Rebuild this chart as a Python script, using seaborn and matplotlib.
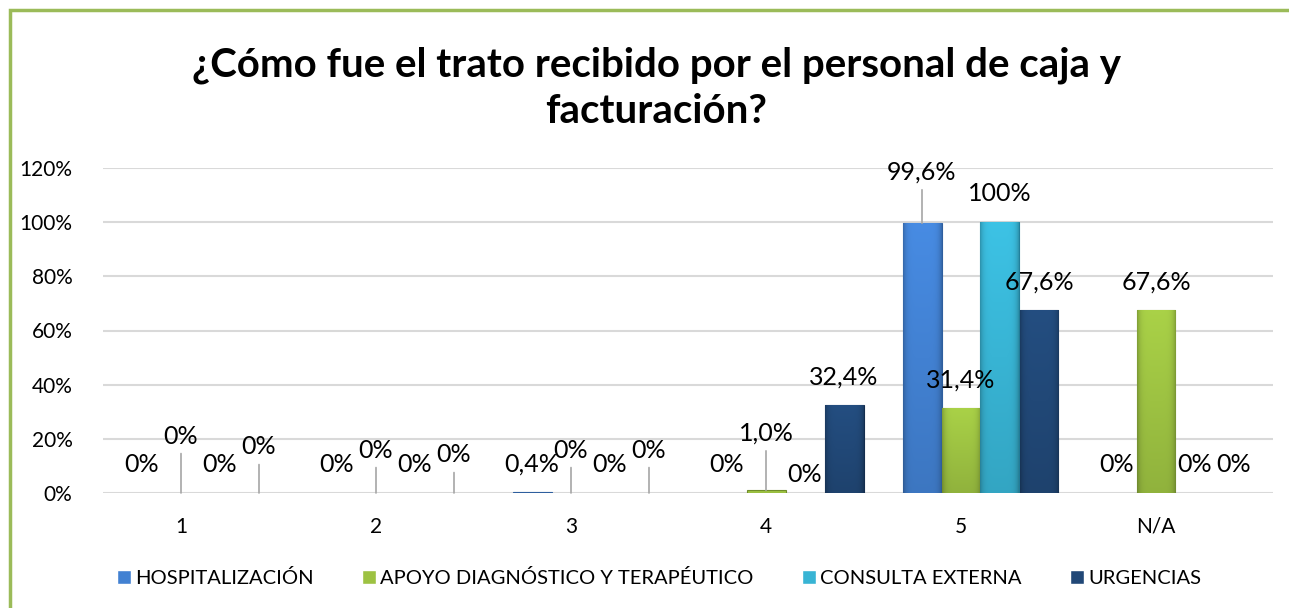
import matplotlib
matplotlib.use("Agg")
import matplotlib.pyplot as plt
import matplotlib.colors as mcolors
import seaborn as sns
import pandas as pd
import numpy as np
from matplotlib.patches import Rectangle

# ---- data ----
categories = ["1", "2", "3", "4", "5", "N/A"]
series = ["HOSPITALIZACIÓN", "APOYO DIAGNÓSTICO Y TERAPÉUTICO", "CONSULTA EXTERNA", "URGENCIAS"]
hospitalizacion = [0.0, 0.0, 0.4, 0.0, 99.6, 0.0]
apoyo = [0.0, 0.0, 0.0, 1.0, 31.4, 67.6]
consulta = [0.0, 0.0, 0.0, 0.0, 100.0, 0.0]
urgencias = [0.0, 0.0, 0.0, 32.4, 67.6, 0.0]
value_labels = [
    ["0%", "0%", "0,4%", "0%", "99,6%", "0%"],
    ["0%", "0%", "0%", "1,0%", "31,4%", "67,6%"],
    ["0%", "0%", "0%", "0%", "100%", "0%"],
    ["0%", "0%", "0%", "32,4%", "67,6%", "0%"],
]
title = "¿Cómo fue el trato recibido por el personal de caja y\nfacturación?"

# ---- styles (label placement, in pixels above bar top) ----
label_raise = [
    [28, 28, 28, 28, 51, 28],
    [57, 43, 43, 57, 28, 28],
    [28, 28, 28, 19, 29, 28],
    [46, 38, 43, 28, 28, 28],
]
colors = ["#4281D2", "#9DC242", "#38B4D4", "#214877"]
edges = ["#2E5E9E", "#6F8C2A", "#21809C", "#132D4E"]

df = pd.DataFrame({
    "cat": categories * 4,
    "serie": sum([[s] * len(categories) for s in series], []),
    "val": hospitalizacion + apoyo + consulta + urgencias,
})

sns.set_theme(style="white")
plt.rcParams["font.family"] = ["Lato", "DejaVu Sans"]
plt.rcParams["text.color"] = "black"
plt.rcParams["xtick.color"] = "black"
plt.rcParams["ytick.color"] = "black"

fig = plt.figure(figsize=(12.89, 6.08), dpi=100)
ax = fig.add_axes([103 / 1289, 1 - 493 / 608, 1170 / 1289, 325 / 608])

sns.barplot(data=df, x="cat", y="val", hue="serie", order=categories,
            hue_order=series, palette=colors, width=0.8, ax=ax,
            legend=True, errorbar=None, saturation=1)


def shade(base):
    rgb = np.array(mcolors.to_rgb(base))
    xs = np.linspace(-1, 1, 40)
    ys = np.linspace(0, 1, 60)[:, None]
    edge_dark = 1 - 0.22 * (np.abs(xs) ** 6)
    vert = 1.08 - 0.16 * ys
    fac = (edge_dark[None, :] * vert)[..., None]
    img = np.clip(rgb[None, None, :] * fac, 0, 1)
    return img


for ci, cont in enumerate(ax.containers):
    for bi, bar in enumerate(cont):
        bar.set_edgecolor(edges[ci])
        h = bar.get_height()
        bar.set_linewidth(0.8 if h > 0 else 0)
        x = bar.get_x() + bar.get_width() / 2
        if h > 2:
            im = ax.imshow(shade(colors[ci]), extent=(bar.get_x(), bar.get_x() + bar.get_width(), 0, h),
                           aspect="auto", origin="upper", zorder=bar.get_zorder() + 0.1,
                           interpolation="bilinear")
            im.set_clip_path(bar)
        r = label_raise[ci][bi]
        kw = dict(xy=(x, h), xytext=(0, r), textcoords="offset pixels",
                  ha="center", va="center", fontsize=18, color="#000000", zorder=5)
        if r > 35:
            kw["arrowprops"] = dict(arrowstyle="-", color="#A6A6A6", lw=1.2,
                                    relpos=(0.5, 0.0), shrinkA=2, shrinkB=0)
        ax.annotate(value_labels[ci][bi], **kw)

ax.set_ylim(0, 120)
ax.set_xlim(-0.5, 5.5)
ax.set_yticks(np.arange(0, 121, 20))
ax.set_yticklabels([f"{v}%" for v in range(0, 121, 20)], fontsize=15)
ax.set_xticks(np.arange(len(categories)) - 0.1)
ax.set_xticklabels(categories, fontsize=15)
ax.tick_params(axis="y", length=0, pad=22, labelcolor="black")
ax.tick_params(axis="x", length=0, pad=17, labelcolor="black")
ax.set_xlabel("")
ax.set_ylabel("")
ax.yaxis.grid(True, color="#D9D9D9", linewidth=1.5)
ax.set_axisbelow(True)
for s in ax.spines.values():
    s.set_visible(False)

handles, labels = ax.get_legend_handles_labels()
ax.legend_.remove()
leg = fig.legend(handles, labels, loc="center", bbox_to_anchor=(659 / 1289, 1 - 578 / 608),
                 ncol=4, frameon=False, fontsize=14.5, handlelength=0.7, handleheight=0.7,
                 handletextpad=0.2, columnspacing=2.4)
for t in leg.get_texts():
    t.set_color("black")

fig.text(656 / 1289, 1 - 88 / 608, title, ha="center", va="center", fontsize=29,
         fontweight="bold", linespacing=1.3, color="black")

fig.patches.append(Rectangle((10 / 1289, -0.1), 1.2, 1 - 10 / 608 + 0.1,
                             transform=fig.transFigure, fill=False,
                             edgecolor="#9BBB59", linewidth=2.5))

fig.savefig("out.png", dpi=100)
